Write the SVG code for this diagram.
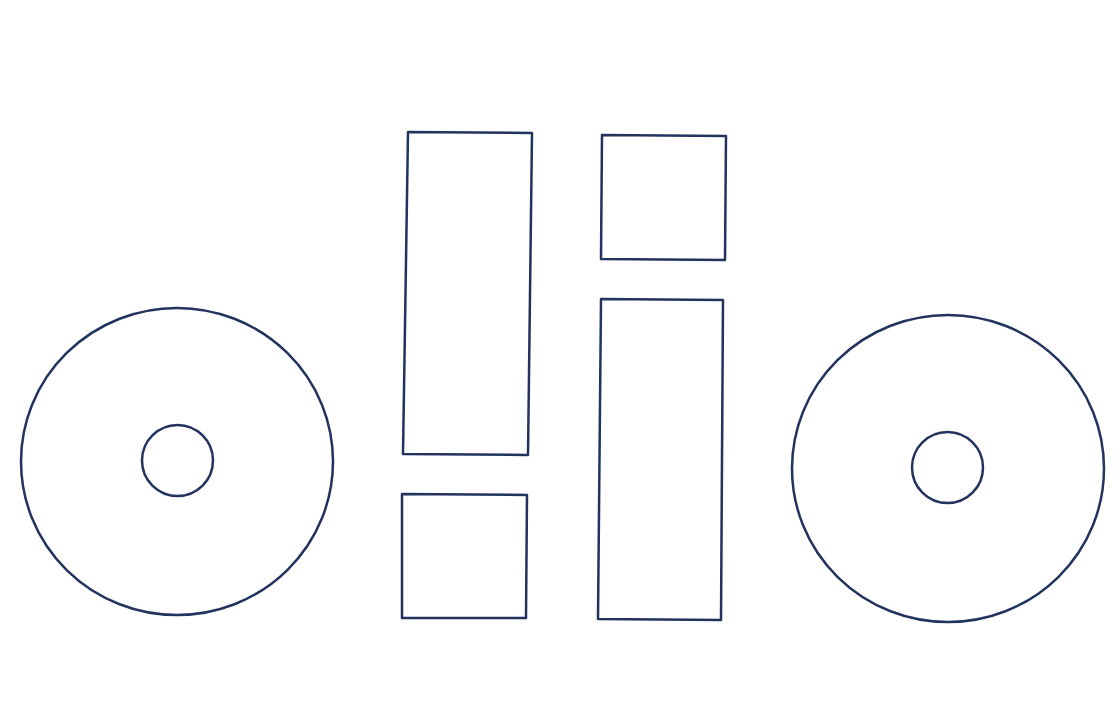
<svg xmlns="http://www.w3.org/2000/svg" width="1120" height="708" viewBox="0 0 1120 708">
<style>
.s{fill:none;stroke:#22335e;stroke-width:2.5;stroke-linejoin:round}
</style>
<rect width="1120" height="708" fill="#ffffff"/>
<g id="disc-left">
<ellipse class="s" cx="177" cy="461.5" rx="156" ry="153.5"/>
<circle class="s" cx="177.5" cy="460.5" r="35.5"/>
</g>
<g id="bar-left-tall">
<polygon class="s" points="408,132 532,133 528,455 403,454"/>
</g>
<g id="bar-left-short">
<polygon class="s" points="402,494 527,495 526,618 402,618"/>
</g>
<g id="bar-right-short">
<polygon class="s" points="602,135 726,136 725,260 601,259"/>
</g>
<g id="bar-right-tall">
<polygon class="s" points="601,299 723,300 721,620 598,619"/>
</g>
<g id="disc-right">
<ellipse class="s" cx="948" cy="468.5" rx="156" ry="153.5"/>
<circle class="s" cx="947.5" cy="467.5" r="35.5"/>
</g>
<g id="connectors"/>
</svg>
